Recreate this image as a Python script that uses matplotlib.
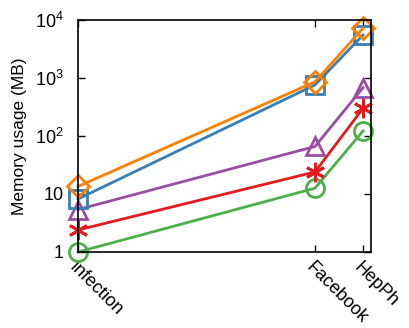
import matplotlib

matplotlib.use("Agg")
import matplotlib.pyplot as plt
from matplotlib.ticker import FixedLocator, FixedFormatter, NullLocator

plt.rcParams["font.family"] = ["Liberation Sans", "DejaVu Sans"]
plt.rcParams["mathtext.fontset"] = "custom"
plt.rcParams["mathtext.rm"] = "Liberation Sans"

datasets = ["Infection", "Facebook", "HepPh"]
x_pos = [0, 237, 285]

green_circle = [1.0, 12.6, 122]
red_star = [2.4, 24, 300]
purple_tri = [5.4, 66, 680]
blue_square = [8.2, 760, 5500]
orange_diamond = [13.5, 860, 7200]

series = [
    (green_circle, "#4daf4a", "o", 13),
    (red_star, "#e41a1c", (6, 2, 0), 14),
    (purple_tri, "#984ea3", "^", 13),
    (blue_square, "#377eb8", "s", 13),
    (orange_diamond, "#ff7f00", "D", 11),
]

fig = plt.figure(figsize=(4.09, 3.28), dpi=100)
ax = fig.add_axes([78 / 409, 1 - 252 / 328, (371 - 78) / 409, (252 - 20) / 328])

for values, color, marker, ms in series:
    ax.plot(
        x_pos, values, color=color, lw=2.0, marker=marker, ms=ms,
        mfc="none", mec=color, mew=2.0, clip_on=False,
    )

ax.set_yscale("log")
ax.set_ylim(1, 1e4)
ax.set_xlim(0, 293)
ax.yaxis.set_major_locator(FixedLocator([1, 10, 100, 1000, 10000]))
ax.yaxis.set_major_formatter(
    FixedFormatter(["1", "10", r"10$^\mathregular{2}$", r"10$^\mathregular{3}$", r"10$^\mathregular{4}$"])
)
ax.yaxis.set_minor_locator(NullLocator())
ax.set_xticks(x_pos)
ax.set_xticklabels(datasets, rotation=-45, ha="left", va="top", rotation_mode="anchor")
ax.tick_params(direction="in", length=5, width=1, top=True, right=True, labelsize=13)
ax.tick_params(axis="y", pad=10)
ax.tick_params(axis="x", pad=5)
for spine in ax.spines.values():
    spine.set_linewidth(1.2)
ax.set_ylabel("Memory usage (MB)", fontsize=12.5, labelpad=6)

fig.savefig("out.png", dpi=100)
